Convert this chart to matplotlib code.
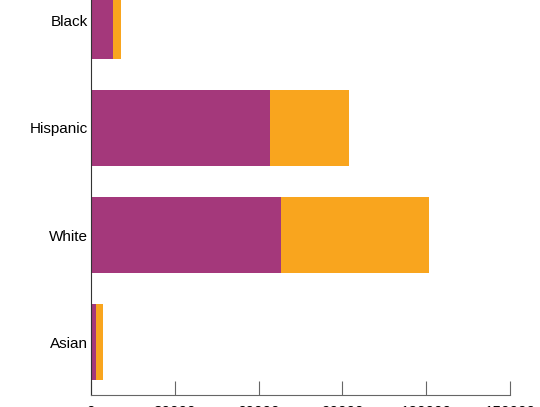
import matplotlib
matplotlib.use("Agg")
import matplotlib.pyplot as plt
import numpy as np

# Data (bottom to top)
groups = ["Asian", "White", "Hispanic", "Black"]
part_a = [1800, 68000, 64100, 7900]
part_b = [2500, 53000, 28300, 2900]
x_ticks = [0, 30000, 60000, 90000, 120000, 150000]

purple = "#A4387B"
orange = "#F9A51E"

plt.rcParams["font.family"] = ["Liberation Sans", "DejaVu Sans"]

fig = plt.figure(figsize=(5.40, 4.07), dpi=100)
ax = fig.add_axes([91 / 540, 12 / 407, 419 / 540, 395 / 407])

y = np.arange(len(groups))
h = 76 / 107
ax.barh(y, part_a, height=h, color=purple)
ax.barh(y, part_b, left=part_a, height=h, color=orange)

ax.set_xlim(0, 150000)
ax.set_ylim(-0.495, 3.196)
ax.set_yticks(y)
ax.set_yticklabels(groups, fontsize=11)
ax.set_xticks(x_ticks)
ax.set_xticklabels([str(t) for t in x_ticks], fontsize=11)

for s in ["top", "right"]:
    ax.spines[s].set_visible(False)
ax.spines["left"].set_color("#333333")
ax.spines["bottom"].set_color("#666666")
ax.tick_params(axis="y", length=0, pad=2)
ax.tick_params(axis="x", direction="in", length=10, color="#666666", pad=7)

fig.savefig("out.png", dpi=100)
